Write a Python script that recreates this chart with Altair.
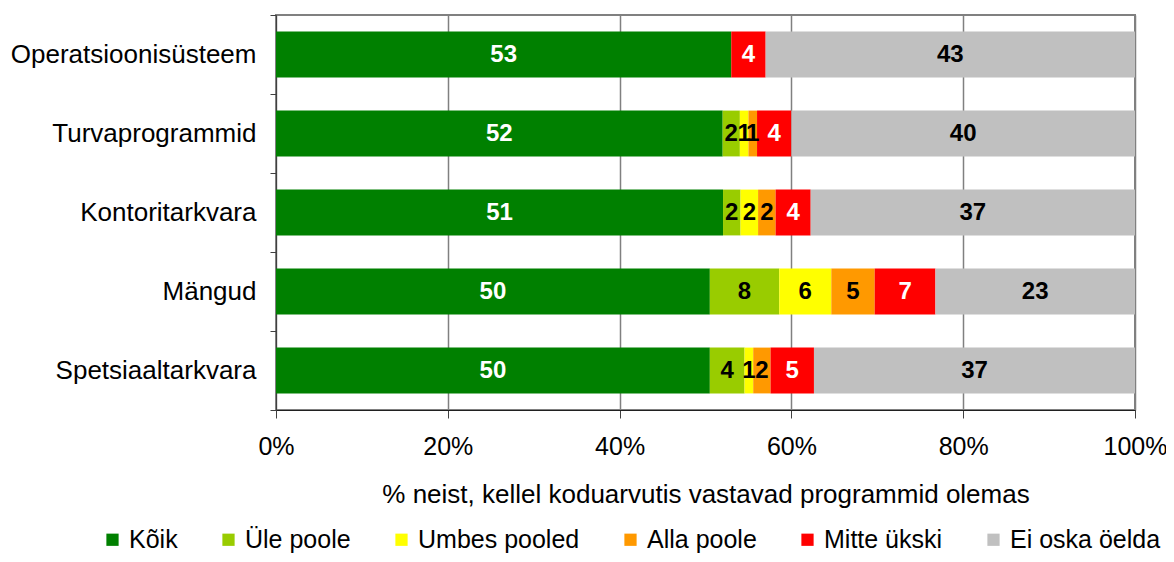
import altair as alt
import pandas as pd

categories = ["Operatsioonisüsteem", "Turvaprogrammid", "Kontoritarkvara", "Mängud", "Spetsiaaltarkvara"]
series = ["Kõik", "Üle poole", "Umbes pooled", "Alla poole", "Mitte ükski", "Ei oska öelda"]
colors = ["#008000", "#99CC00", "#FFFF00", "#FF9900", "#FF0000", "#C0C0C0"]

kõik = [53, 52, 51, 50, 50]
üle_poole = [0, 2, 2, 8, 4]
umbes_pooled = [0, 1, 2, 6, 1]
alla_poole = [0, 1, 2, 5, 2]
mitte_ükski = [4, 4, 4, 7, 5]
ei_oska = [43, 40, 37, 23, 37]

values = [kõik, üle_poole, umbes_pooled, alla_poole, mitte_ükski, ei_oska]
rows = []
for si, (s, vals) in enumerate(zip(series, values)):
    for c, v in zip(categories, vals):
        rows.append({"kat": c, "seeria": s, "ord": si, "v": v})
df = pd.DataFrame(rows)

FONT = "Liberation Sans"

base = alt.Chart(df)

bars = base.mark_bar(height=alt.RelativeBandSize(0.58)).encode(
    y=alt.Y("kat:N", sort=categories, title=None,
            scale=alt.Scale(paddingInner=0, paddingOuter=0),
            axis=alt.Axis(tickBand="extent", labelFontSize=26, labelFont=FONT,
                          labelColor="black", labelPadding=14, tickSize=6, labelLimit=0,
                          tickColor="#404040", domainColor="#404040", grid=False)),
    x=alt.X("v:Q", stack="normalize",
            scale=alt.Scale(domain=[0, 1], nice=False),
            axis=alt.Axis(format="%", values=[0, 0.2, 0.4, 0.6, 0.8, 1.0],
                          title="% neist, kellel koduarvutis vastavad programmid olemas",
                          titleFontSize=26, titleFont=FONT, titleFontWeight="normal",
                          titleColor="black", titlePadding=22,
                          labelFontSize=25, labelFont=FONT, labelColor="black",
                          labelFlush=False, labelOverlap=False,
                          labelPadding=16, tickSize=8, tickColor="#404040",
                          domainColor="#202020", grid=True, gridColor="#808080",
                          gridWidth=1.5)),
    color=alt.Color("seeria:N", sort=series,
                    scale=alt.Scale(domain=series, range=colors),
                    legend=alt.Legend(title=None, orient="none", direction="horizontal",
                                      legendX=-176, legendY=512, symbolType="square",
                                      symbolSize=150, symbolStrokeWidth=0,
                                      labelFontSize=25, labelFont=FONT, labelColor="black",
                                      labelOffset=4, columnPadding=38, padding=0,
                                      symbolOpacity=1, labelLimit=0)),
    order=alt.Order("ord:Q"),
)

labels = base.transform_joinaggregate(
    total="sum(v)", groupby=["kat"]
).transform_window(
    cum="sum(v)", sort=[alt.SortField("ord")], groupby=["kat"], frame=[None, 0]
).transform_calculate(
    mid="(datum.cum - datum.v / 2) / datum.total"
).transform_filter(
    "datum.v > 0"
).mark_text(fontSize=24, fontWeight="bold", font=FONT, baseline="middle").encode(
    y=alt.Y("kat:N", sort=categories),
    x=alt.X("mid:Q"),
    text=alt.Text("v:Q"),
    color=alt.condition(
        alt.FieldOneOfPredicate(field="seeria", oneOf=["Kõik", "Mitte ükski"]),
        alt.value("white"), alt.value("black")),
)

chart = alt.layer(bars, labels).properties(
    width=859, height=395,
    autosize=alt.AutoSizeParams(type="none"),
    padding={"left": 268, "top": 7, "right": 31, "bottom": 144},
).configure_view(
    stroke="#808080", strokeWidth=2
)

chart.save("out.html", embed_options={"renderer": "svg", "actions": False})
